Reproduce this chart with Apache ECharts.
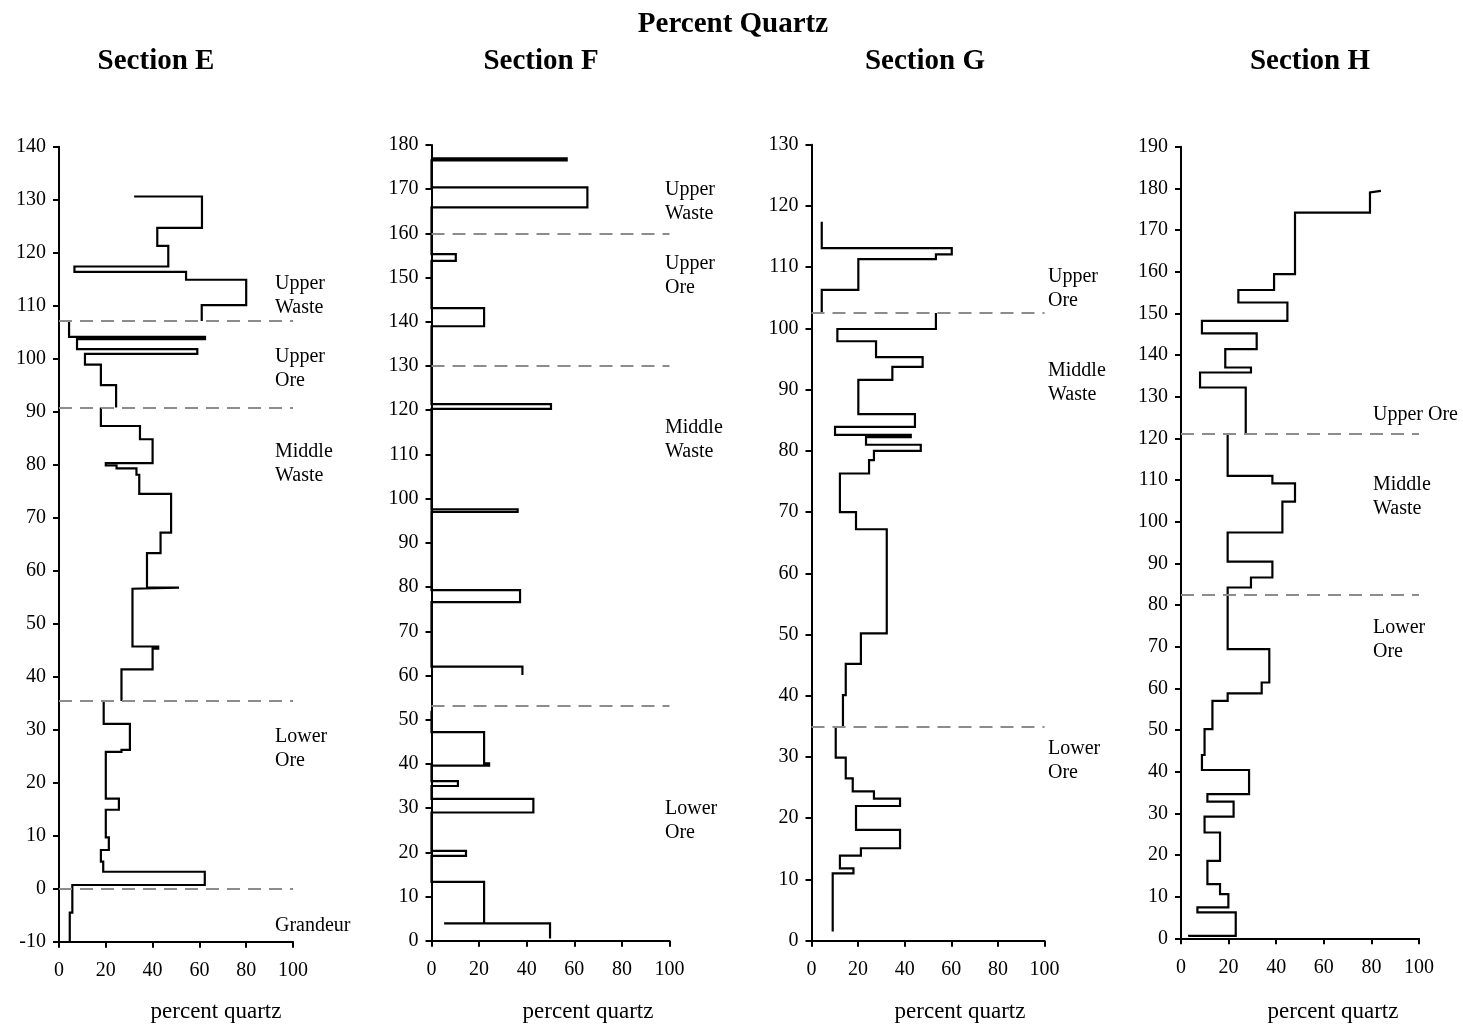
<!DOCTYPE html>
<html>
<head>
<meta charset="utf-8">
<script src="https://cdn.jsdelivr.net/npm/echarts@6/dist/echarts.min.js"></script>
<style>
html,body{margin:0;padding:0;background:#fff;}
#chart{width:1463px;height:1026px;}
</style>
</head>
<body>
<div id="chart"></div>
<script>
// ---------- DATA (step profiles: quartz value holds between consecutive depth boundaries; null = gap) ----------
const sections = ['Section E', 'Section F', 'Section G', 'Section H'];

const depthE = [130.6, 130.6, 124.7, 121.3, 117.4, 116.4, 114.9, 110.1, 107.1, 107.1, 104.1, 103.7, 101.8, 100.9, 98.9, 95.0, 90.8, 90.8, 87.3, 84.8, 80.3, 79.85, 79.3, 78.1, 74.5, 67.2, 63.3, 56.8, 56.6, 45.7, 45.3, 41.4, 35.4, 35.4, 31.1, 26.2, 25.8, 17.0, 14.9, 9.7, 7.3, 5.1, 3.2, 0.7, -4.5, -10];
const quartzE = [32.1, 61.1, 42.0, 46.7, 6.6, 54.3, 80.0, 61.0, null, 4.3, 62.4, 7.7, 59.1, 11.1, 17.9, 24.4, null, 17.9, 34.6, 40.0, 20.0, 24.6, 33.1, 34.3, 47.9, 43.4, 37.6, 51.3, 31.4, 42.4, 40.0, 26.7, null, 19.1, 30.3, 26.7, 20.0, 25.6, 20.0, 21.3, 17.9, 18.9, 62.3, 5.7, 4.6];

const depthF = [177.0, 177.0, 176.5, 170.4, 165.9, 155.3, 153.8, 143.1, 139.0, 121.4, 120.3, 97.6, 97.0, 79.3, 76.6, 62.0, 60.1, 52.0, 47.2, 40.1, 39.6, 36.1, 35.0, 32.1, 29.0, 20.3, 19.2, 13.3, 3.9, 3.9, 0.5];
const quartzF = [0, 56.8, 0, 65.5, 0, 10.2, 0, 22.1, 0, 50.2, 0, 36.2, 0, 37.2, 0, 38.2, null, 0, 22.1, 24.2, 0, 11.1, 0, 42.8, 0, 14.5, 0, 22.1, 5.3, 49.8];

const depthG = [117.4, 113.1, 112.1, 111.3, 106.3, 102.5, 102.5, 99.9, 97.9, 95.3, 93.7, 91.6, 86.0, 83.9, 82.6, 82.25, 81.0, 80.0, 78.5, 76.3, 70.0, 67.2, 50.2, 45.2, 40.1, 34.9, 34.9, 29.9, 26.5, 24.4, 23.2, 22.0, 18.1, 15.1, 13.9, 11.8, 11.0, 1.5];
const quartzG = [4.4, 60.2, 53.4, 20.1, 4.4, null, 53.4, 11.1, 27.7, 47.7, 34.7, 20.1, 44.4, 10.1, 42.6, 23.4, 46.9, 26.8, 24.7, 12.2, 19.1, 32.3, 21.2, 14.7, 13.5, null, 10.4, 14.7, 17.7, 26.8, 38.0, 19.1, 38.0, 21.2, 12.2, 18.0, 9.1];

const depthH = [179.4, 179.0, 174.2, 159.4, 155.6, 152.6, 148.2, 145.2, 141.4, 137.0, 135.8, 132.2, 121.0, 121.0, 111.0, 109.2, 104.8, 97.4, 90.4, 86.6, 84.2, 69.4, 61.4, 58.8, 57.0, 50.2, 44.0, 40.4, 34.6, 32.8, 29.2, 25.4, 18.6, 13.0, 10.6, 7.4, 6.2, 0.6, 0.4];
const quartzH = [84.0, 79.4, 47.9, 39.1, 24.1, 44.7, 8.8, 31.8, 18.6, 29.4, 8.0, 27.2, null, 19.6, 38.4, 47.9, 42.6, 19.6, 38.4, 29.4, 19.6, 37.1, 33.9, 19.6, 13.2, 9.9, 8.8, 28.6, 11.1, 22.1, 9.9, 16.4, 11.1, 16.4, 19.9, 6.9, 23.0, 3.4];

// zone boundaries (dashed lines)
const boundsE = [107.1, 90.8, 35.4, 0];
const boundsF = [160, 130, 53.2];
const boundsG = [102.5, 34.9];
const boundsH = [121.0, 82.4];

// zone labels
const zonesE = ['Upper\nWaste', 'Upper\nOre', 'Middle\nWaste', 'Lower\nOre', 'Grandeur'];
const zonesF = ['Upper\nWaste', 'Upper\nOre', 'Middle\nWaste', 'Lower\nOre'];
const zonesG = ['Upper\nOre', 'Middle\nWaste', 'Lower\nOre'];
const zonesH = ['Upper Ore', 'Middle\nWaste', 'Lower\nOre'];

// axis ranges
const yMinMax = [[-10, 140], [0, 180], [0, 130], [0, 190]];
const xTicks = [0, 100, 20];

const mainTitle = 'Percent Quartz';
const xName = 'percent quartz';

// ---------- LAYOUT ----------
const grids = [
  {left: 59, top: 146.7, width: 234, height: 795},
  {left: 431.5, top: 145, width: 238, height: 795.7},
  {left: 811.5, top: 144.7, width: 233, height: 796},
  {left: 1181, top: 146.7, width: 238, height: 791.6}
];
const zoneTops = [
  [272, 345, 440, 725, 914],
  [178, 252, 416, 797],
  [265, 359, 737],
  [403, 473, 616]
];
const zoneLeft = [275, 665, 1048, 1373];
const secCenters = [156, 541, 925, 1310];
const nameCenters = [216, 588, 960, 1333];

const FONT = 'Liberation Serif';

function stepLine(depth, quartz) {
  const pts = [];
  for (let i = 0; i < quartz.length; i++) {
    if (quartz[i] === null) { pts.push(['-', '-']); continue; }
    pts.push([quartz[i], depth[i]]);
    pts.push([quartz[i], depth[i + 1]]);
  }
  return pts;
}

const profiles = [[depthE, quartzE], [depthF, quartzF], [depthG, quartzG], [depthH, quartzH]];
const bounds = [boundsE, boundsF, boundsG, boundsH];
const zones = [zonesE, zonesF, zonesG, zonesH];

const axisLine = {onZero: false, lineStyle: {color: '#000', width: 2}};
const axisTick = {length: 6, lineStyle: {color: '#000', width: 2}};

const option = {
  animation: false,
  backgroundColor: '#fff',
  grid: grids.map(g => Object.assign({containLabel: false}, g)),
  xAxis: grids.map((g, i) => ({
    type: 'value', gridIndex: i, min: xTicks[0], max: xTicks[1], interval: xTicks[2],
    axisLine, axisTick,
    axisLabel: {color: '#000', fontFamily: FONT, fontSize: 20, margin: 19},
    splitLine: {show: false}
  })),
  yAxis: grids.map((g, i) => ({
    type: 'value', gridIndex: i, min: yMinMax[i][0], max: yMinMax[i][1], interval: 10,
    axisLine, axisTick,
    axisLabel: {color: '#000', fontFamily: FONT, fontSize: 20, margin: 13},
    splitLine: {show: false}
  })),
  series: profiles.map((p, i) => ({
    type: 'line', xAxisIndex: i, yAxisIndex: i,
    data: stepLine(p[0], p[1]),
    showSymbol: false, symbol: 'none', connectNulls: false, silent: true,
    lineStyle: {color: '#000', width: 2.2, join: 'miter'},
    markLine: {
      silent: true, symbol: ['none', 'none'],
      label: {show: false},
      lineStyle: {color: '#8c8c8c', width: 2, type: [13, 8]},
      data: bounds[i].map(v => ({yAxis: v}))
    }
  })),
  graphic: []
};

option.graphic.push({
  type: 'text', x: 733, y: 25, silent: true,
  style: {text: mainTitle, fontFamily: FONT, fontWeight: 'bold', fontSize: 29, fill: '#000', align: 'center', verticalAlign: 'middle'}
});
sections.forEach((s, i) => {
  option.graphic.push({
    type: 'text', x: secCenters[i], y: 62, silent: true,
    style: {text: s, fontFamily: FONT, fontWeight: 'bold', fontSize: 29, fill: '#000', align: 'center', verticalAlign: 'middle'}
  });
  option.graphic.push({
    type: 'text', x: nameCenters[i], y: 1012, silent: true,
    style: {text: xName, fontFamily: FONT, fontSize: 23, fill: '#000', align: 'center', verticalAlign: 'middle'}
  });
  zones[i].forEach((z, k) => {
    option.graphic.push({
      type: 'text', x: zoneLeft[i], y: zoneTops[i][k], silent: true,
      style: {text: z, fontFamily: FONT, fontSize: 20, lineHeight: 24, fill: '#000', align: 'left', verticalAlign: 'top'}
    });
  });
});

const chart = echarts.init(document.getElementById('chart'), null, {renderer: 'canvas'});
chart.setOption(option);
</script>
</body>
</html>
